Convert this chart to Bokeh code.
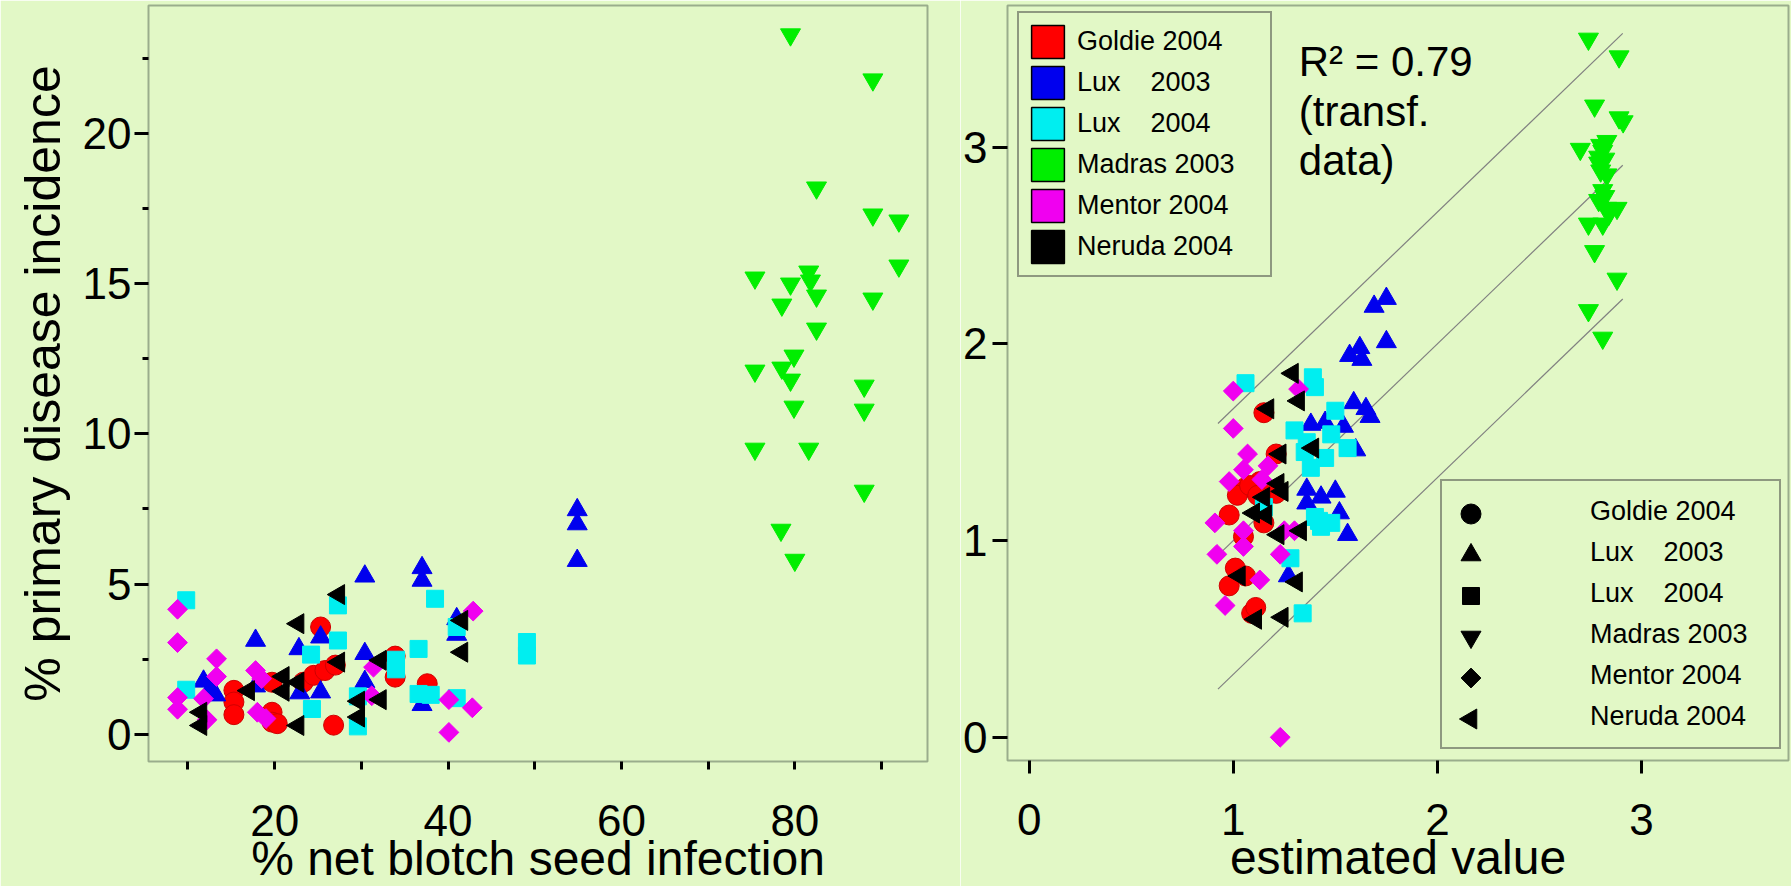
import math

from bokeh.embed import file_html
from bokeh.layouts import row
from bokeh.models import FixedTicker, Label, Legend, LegendItem, Range1d
from bokeh.plotting import figure
from bokeh.resources import INLINE

# ---------------------------------------------------------------------------
# Data: seed infection vs. primary disease incidence (raw values)
# ---------------------------------------------------------------------------
goldie_inf = [15.3, 15.3, 15.3, 19.7, 19.7, 19.7, 20.3, 23.3, 24.5, 25.3, 25.8, 27.0, 26.8, 33.9, 33.9, 37.6]
goldie_inc = [1.46, 1.07, 0.65, 1.73, 0.73, 0.40, 0.35, 1.73, 1.96, 3.57, 2.12, 2.30, 0.30, 2.60, 1.90, 1.68]

lux03_inf = [11.8, 12.6, 13.2, 17.8, 17.8, 22.8, 22.9, 25.3, 25.3, 30.4, 30.4, 30.4, 37.0, 37.0, 37.0,
             41.0, 41.0, 54.9, 54.9, 54.9]
lux03_inc = [1.76, 1.51, 1.30, 3.12, 1.60, 2.84, 1.37, 3.23, 1.40, 5.26, 2.68, 1.75, 5.54, 5.12, 0.98,
             3.84, 3.32, 7.47, 7.00, 5.78]

lux04_inf = [9.8, 9.8, 24.2, 24.3, 27.3, 27.3, 29.6, 29.6, 34.0, 34.0, 36.6, 36.6, 38.5, 38.0, 41.0, 41.0, 49.1, 49.1]
lux04_inc = [4.46, 1.48, 2.65, 0.84, 4.29, 3.12, 1.26, 0.26, 2.48, 2.16, 2.84, 1.34, 4.51, 1.31, 3.57, 1.20, 3.07, 2.62]

madras_inf = [79.5, 89.0, 82.5, 89.0, 92.0, 92.0, 75.4, 81.6, 79.5, 81.8, 82.5, 78.5, 89.0, 82.5, 79.9,
              75.4, 78.5, 79.5, 88.0, 79.9, 88.0, 75.4, 81.6, 88.0, 78.4, 80.0]
madras_inc = [23.3, 21.8, 18.2, 17.3, 17.1, 15.6, 15.2, 15.4, 15.0, 15.1, 14.6, 14.3, 14.5, 13.5, 12.6,
              12.1, 12.2, 11.8, 11.6, 10.9, 10.8, 9.5, 9.5, 8.1, 6.8, 5.8]

mentor_inf = [8.8, 8.8, 8.8, 8.8, 11.8, 12.2, 13.3, 13.3, 17.8, 18.5, 18.0, 19.0, 31.4, 31.2, 40.1, 40.1, 42.9, 42.8]
mentor_inc = [4.16, 3.05, 1.22, 0.83, 1.18, 0.48, 2.51, 1.92, 2.12, 1.85, 0.73, 0.52, 2.23, 1.28, 1.15, 0.06, 4.10, 0.88]

neruda_inf = [11.5, 11.5, 17.0, 21.0, 21.0, 22.7, 22.7, 22.7, 27.4, 27.4, 29.7, 29.7, 32.2, 32.2, 41.6, 41.6]
neruda_inc = [0.73, 0.29, 1.45, 1.92, 1.43, 3.68, 1.73, 0.29, 4.65, 2.40, 1.10, 0.57, 2.46, 1.15, 3.79, 2.73]

# ---------------------------------------------------------------------------
# Data: transformed incidence vs. model estimate
# ---------------------------------------------------------------------------
goldie_est = [1.15, 1.21, 1.06, 1.02, 0.98, 1.13, 1.15, 1.05, 1.01, 0.98, 1.06, 1.09, 1.11, 1.21, 1.08, 1.12]
goldie_obs = [1.65, 1.44, 1.27, 1.23, 1.13, 1.30, 1.09, 1.02, 0.86, 0.77, 0.82, 0.63, 0.66, 1.24, 1.28, 1.23]

lux03_est = [1.75, 1.69, 1.75, 1.62, 1.57, 1.63, 1.59, 1.65, 1.67, 1.38, 1.45, 1.54, 1.60, 1.36, 1.43,
             1.50, 1.36, 1.52, 1.56, 1.27]
lux03_obs = [2.23, 2.19, 2.01, 1.98, 1.94, 1.92, 1.70, 1.67, 1.63, 1.59, 1.60, 1.58, 1.46, 1.26, 1.22,
             1.25, 1.19, 1.14, 1.03, 0.82]

lux04_est = [1.06, 1.39, 1.40, 1.30, 1.50, 1.48, 1.56, 1.45, 1.38, 1.35, 1.40, 1.48, 1.43, 1.15, 1.28, 1.34, 1.36, 1.42]
lux04_obs = [1.80, 1.83, 1.78, 1.56, 1.66, 1.54, 1.47, 1.42, 1.37, 1.45, 1.12, 1.09, 1.07, 1.17, 0.91, 0.63, 1.50, 1.10]

madras_est = [2.74, 2.89, 2.77, 2.89, 2.91, 2.70, 2.83, 2.81, 2.82, 2.79, 2.83, 2.81, 2.79, 2.83, 2.88,
              2.74, 2.81, 2.77, 2.88, 2.74, 2.81, 2.80, 2.82, 2.79, 2.84, 2.80]
madras_obs = [3.55, 3.46, 3.21, 3.15, 3.13, 2.99, 3.03, 2.98, 2.94, 2.92, 2.86, 2.78, 2.73, 2.69, 2.69,
              2.61, 2.61, 2.47, 2.33, 2.17, 2.03, 2.88, 2.75, 2.95, 2.66, 3.01]

mentor_est = [1.00, 1.00, 1.07, 1.05, 0.98, 1.14, 1.17, 1.32, 0.91, 1.05, 0.92, 1.05, 1.23, 1.13, 0.96, 1.25, 1.30, 1.23]
mentor_obs = [1.76, 1.57, 1.44, 1.36, 1.30, 1.31, 1.38, 1.77, 1.09, 1.05, 0.93, 0.97, 0.93, 0.80, 0.67, 1.05, 1.05, 0.00]

neruda_est = [1.29, 1.32, 1.17, 1.39, 1.23, 1.22, 1.24, 1.15, 1.10, 1.16, 1.22, 1.33, 1.03, 1.31, 1.11, 1.24]
neruda_obs = [1.85, 1.71, 1.67, 1.47, 1.44, 1.29, 1.25, 1.22, 1.14, 1.13, 1.03, 1.05, 0.82, 0.79, 0.60, 0.61]

# 1:1 line and prediction band on the transformed scale
band_x = [0.925, 2.908]
band_offsets = [-0.68, 0.0, 0.67]

# Tick positions
left_x_major = [20, 40, 60, 80]
left_x_minor = [10, 30, 50, 70, 90]
left_y_major = [0, 5, 10, 15, 20]
left_y_minor = [2.5, 7.5, 12.5, 17.5, 22.5]
right_ticks = [0, 1, 2, 3]

series_names = ["Goldie 2004", "Lux    2003", "Lux    2004", "Madras 2003", "Mentor 2004", "Neruda 2004"]
r2_text = "R\u00b2 = 0.79\n(transf.\ndata)"

# ---------------------------------------------------------------------------
# Styling
# ---------------------------------------------------------------------------
BG = "#E2F8C6"
FRAME = "#9AAD8C"
FONT = "Liberation Sans"
NAN = float("nan")

colors = ["#FF0000", "#0000EE", "#00EEF0", "#00EE00", "#F000F0", "#000000"]
markers = ["circle", "triangle", "square", "inverted_triangle", "square", "triangle"]
angles = [0.0, 0.0, 0.0, 0.0, math.pi / 4, math.pi / 2]   # diamond = rotated square, "<" = rotated triangle
sizes = [20, 20, 17, 20, 14, 20]
outlines = ["#D00000", None, None, None, None, None]


def base_figure(x_range, y_range, left, right, top, fw, fh):
    p = figure(x_range=x_range, y_range=y_range, frame_width=fw, frame_height=fh,
               min_border_left=left, min_border_right=right, min_border_top=top,
               min_border_bottom=886 - top - fh, output_backend="svg", toolbar_location=None)
    p.background_fill_color = BG
    p.border_fill_color = BG
    p.outline_line_color = FRAME
    p.outline_line_width = 2
    p.grid.visible = False
    return p


def style_axis(ax, major_out, minor_out, label_standoff):
    ax.axis_line_color = None
    ax.major_tick_in = 0
    ax.major_tick_out = major_out
    ax.minor_tick_in = 0
    ax.minor_tick_out = minor_out
    ax.major_tick_line_color = "black"
    ax.minor_tick_line_color = "black"
    ax.major_tick_line_width = 3
    ax.minor_tick_line_width = 3
    ax.major_label_text_font = FONT
    ax.major_label_text_font_size = "44px"
    ax.major_label_text_color = "black"
    ax.major_label_standoff = label_standoff
    ax.axis_label_text_font = FONT
    ax.axis_label_text_font_size = "48px"
    ax.axis_label_text_font_style = "normal"
    ax.axis_label_text_color = "black"


def draw_series(p, xs, ys):
    for i in range(6):
        p.scatter(xs[i], ys[i], marker=markers[i], size=sizes[i], angle=angles[i],
                  fill_color=colors[i], line_color=outlines[i] or colors[i], line_width=1)


# ---------------------------------------------------------------------------
# Left panel
# ---------------------------------------------------------------------------
p1 = base_figure(Range1d(5.45, 95.3), Range1d(-0.91, 24.27), 148, 33, 4, 779, 756)
p1.xaxis.ticker = FixedTicker(ticks=left_x_major, minor_ticks=left_x_minor)
p1.yaxis.ticker = FixedTicker(ticks=left_y_major, minor_ticks=left_y_minor)
p1.xaxis.axis_label = "% net blotch seed infection"
p1.yaxis.axis_label = "% primary disease incidence"
style_axis(p1.xaxis[0], 8, 8, 35)
style_axis(p1.yaxis[0], 14, 6, 3)
p1.xaxis.axis_label_standoff = -7
p1.yaxis.axis_label_standoff = 9
p1.yaxis.axis_label_text_font_size = "50px"

draw_series(p1,
            [goldie_inf, lux03_inf, lux04_inf, madras_inf, mentor_inf, neruda_inf],
            [goldie_inc, lux03_inc, lux04_inc, madras_inc, mentor_inc, neruda_inc])

# ---------------------------------------------------------------------------
# Right panel
# ---------------------------------------------------------------------------
FW2, FH2 = 781, 755
p2 = base_figure(Range1d(-0.106, 3.72), Range1d(-0.118, 3.72), 47, 3, 5, FW2, FH2)
p2.xaxis.ticker = FixedTicker(ticks=right_ticks)
p2.yaxis.ticker = FixedTicker(ticks=right_ticks)
p2.xaxis.axis_label = "estimated value"
style_axis(p2.xaxis[0], 13, 0, 30)
style_axis(p2.yaxis[0], 15, 0, 5)
p2.xaxis.axis_label_standoff = -7

for off in band_offsets:
    p2.line(band_x, [v + off for v in band_x], line_color="#808080", line_width=1.2)

draw_series(p2,
            [goldie_est, lux03_est, lux04_est, madras_est, mentor_est, neruda_est],
            [goldie_obs, lux03_obs, lux04_obs, madras_obs, mentor_obs, neruda_obs])

# Colour key (cultivar/year swatches); glyphs carry no visible data
swatches = [p2.quad(left=[NAN], right=[NAN], top=[NAN], bottom=[NAN],
                    fill_color=c, line_color="black", line_width=1.5)
            for c in colors]
colour_key = Legend(items=[LegendItem(label=n, renderers=[r]) for n, r in zip(series_names, swatches)],
                    location=(10, 483), orientation="vertical",
                    glyph_width=41, glyph_height=41, spacing=0, padding=8, margin=0,
                    label_standoff=9, label_width=185,
                    label_text_font=FONT, label_text_font_size="27px", label_text_color="black",
                    border_line_color="#3A3A3A", border_line_width=2,
                    background_fill_color=BG, background_fill_alpha=1.0)
p2.add_layout(colour_key, "center")

# Symbol key: the legend provides box and labels, the symbols are drawn
# in frame-pixel coordinates so that rotated shapes keep their orientation.
KEY_X, KEY_Y, KEY_PAD, KEY_ROW = 433, 11, 10, 41
blank = p2.scatter([NAN], [NAN], fill_alpha=0, line_alpha=0)
symbol_key = Legend(items=[LegendItem(label=n, renderers=[blank]) for n in series_names],
                    location=(KEY_X, KEY_Y), orientation="vertical",
                    glyph_width=KEY_ROW, glyph_height=KEY_ROW, spacing=0, padding=KEY_PAD, margin=0,
                    label_standoff=97, label_width=179,
                    label_text_font=FONT, label_text_font_size="27px", label_text_color="black",
                    border_line_color="#3A3A3A", border_line_width=2,
                    background_fill_alpha=0.0)
p2.add_layout(symbol_key, "center")

p2.extra_x_ranges = {"px": Range1d(0, FW2)}
p2.extra_y_ranges = {"px": Range1d(0, FH2)}
key_top = KEY_Y + 2 * KEY_PAD + len(series_names) * KEY_ROW
key_cx = KEY_X + KEY_PAD + KEY_ROW / 2
for i in range(len(series_names)):
    key_cy = key_top - KEY_PAD - KEY_ROW / 2 - i * KEY_ROW
    p2.scatter(x=[key_cx], y=[key_cy], x_range_name="px", y_range_name="px",
               marker=markers[i], angle=angles[i], size=sizes[i],
               fill_color="black", line_color="black")

p2.add_layout(Label(x=1.321, y=3.553, text=r2_text, text_font=FONT, text_font_size="42px",
                    text_baseline="top", text_align="left", text_line_height=1.05, text_color="black"))

layout = row(p1, p2)
layout.spacing = 0

with open("out.html", "w") as f:
    f.write(file_html(layout, INLINE, title="Net blotch seed infection"))
